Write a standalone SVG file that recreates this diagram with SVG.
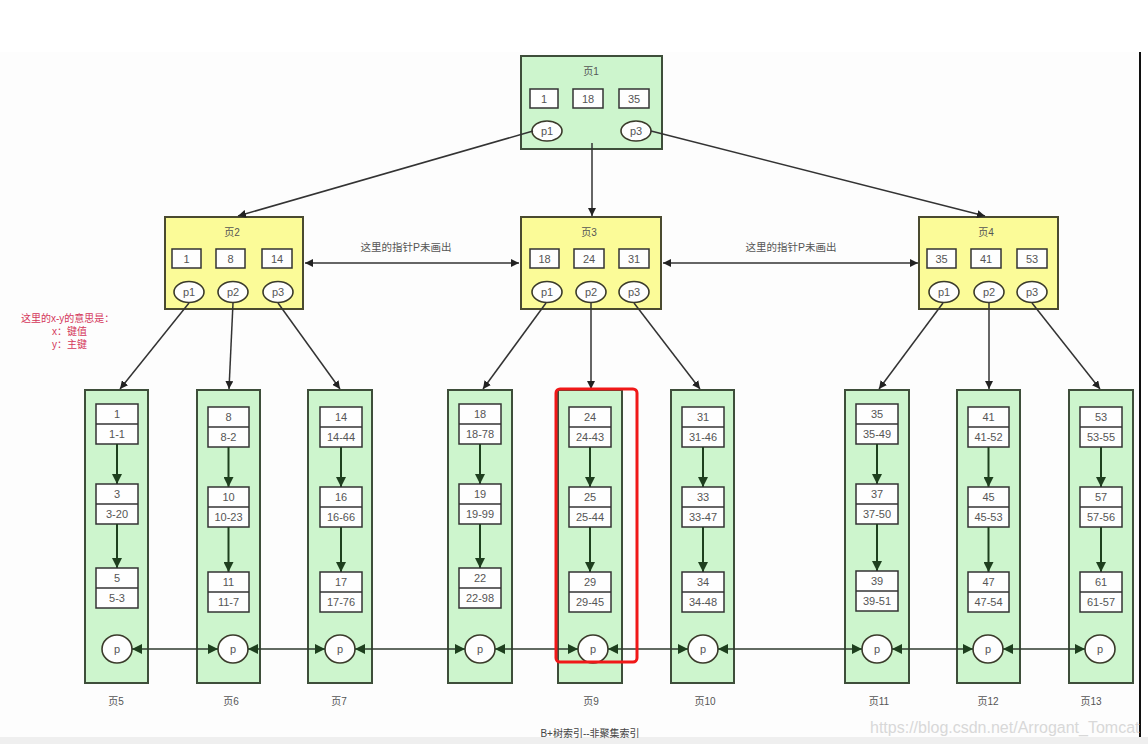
<svg xmlns="http://www.w3.org/2000/svg" width="1148" height="744" viewBox="0 0 1148 744">
<style>
.t{font-family:"Liberation Sans","Noto Sans CJK SC",sans-serif;fill:#555;text-anchor:middle;dominant-baseline:central}
.k{font-size:11px}
.ti{font-size:10px}
.g{fill:#cdf5cd;stroke:#3e4e3a;stroke-width:2}
.y{fill:#fbfb98;stroke:#4a4a30;stroke-width:2}
.b{fill:#fefefe;stroke:#333;stroke-width:1.5}
.e{fill:#fefefe;stroke:#3a3a2a;stroke-width:1.6}
.c{fill:none;stroke:#333;stroke-width:1.5}
.lc{fill:none;stroke:#1e3f1e;stroke-width:2;marker-end:url(#ga)}
.hc{fill:none;stroke:#2e3a2e;stroke-width:1.6;marker-start:url(#ga);marker-end:url(#ga)}
.red{font-family:"Liberation Sans","Noto Sans CJK SC",sans-serif;font-size:10px;fill:#d4365a}
</style>
<defs>
<marker id="ba" viewBox="0 0 10 10" refX="10" refY="5" markerWidth="8" markerHeight="8" markerUnits="userSpaceOnUse" orient="auto-start-reverse"><path d="M0,0 L10,5 L0,10 z" fill="#222"/></marker>
<marker id="ga" viewBox="0 0 10 10" refX="10" refY="5" markerWidth="10" markerHeight="10" markerUnits="userSpaceOnUse" orient="auto-start-reverse"><path d="M0,0 L10,5 L0,10 z" fill="#1e3f1e"/></marker>
</defs>
<rect x="0" y="0" width="1148" height="744" fill="#ffffff"/>
<rect x="0" y="52" width="1139" height="685" fill="#fdfdfd"/>
<rect x="1139" y="52" width="2" height="685" fill="#111"/>
<rect x="0" y="737" width="1148" height="7" fill="#efefef"/>

<g id="page1">
<rect class="g" x="521" y="56" width="141" height="93"/>
<text class="t ti" x="591" y="71">页1</text>
<rect class="b" x="530" y="89" width="28" height="19"/><text class="t k" x="544" y="98.5">1</text>
<rect class="b" x="573" y="89" width="30" height="19"/><text class="t k" x="588" y="98.5">18</text>
<rect class="b" x="619" y="89" width="30" height="19"/><text class="t k" x="634" y="98.5">35</text>
<ellipse class="e" cx="547" cy="131" rx="15" ry="10"/><text class="t k" x="547" y="131">p1</text>
<ellipse class="e" cx="636" cy="131" rx="15" ry="10"/><text class="t k" x="636" y="131">p3</text>
</g>

<g id="page2">
<rect class="y" x="165" y="217" width="138" height="92"/>
<text class="t ti" x="232" y="232">页2</text>
<rect class="b" x="172" y="249" width="29" height="19"/><text class="t k" x="186.5" y="258.5">1</text>
<rect class="b" x="216" y="249" width="29" height="19"/><text class="t k" x="230.5" y="258.5">8</text>
<rect class="b" x="262" y="249" width="30" height="19"/><text class="t k" x="277" y="258.5">14</text>
<ellipse class="e" cx="189" cy="292" rx="15" ry="10.5"/><text class="t k" x="189" y="292">p1</text>
<ellipse class="e" cx="233" cy="292" rx="15" ry="10.5"/><text class="t k" x="233" y="292">p2</text>
<ellipse class="e" cx="278" cy="292" rx="15" ry="10.5"/><text class="t k" x="278" y="292">p3</text>
</g>

<g id="page3">
<rect class="y" x="521" y="217" width="140" height="92"/>
<text class="t ti" x="589" y="232">页3</text>
<rect class="b" x="530" y="249" width="29" height="19"/><text class="t k" x="544.5" y="258.5">18</text>
<rect class="b" x="574" y="249" width="30" height="19"/><text class="t k" x="589" y="258.5">24</text>
<rect class="b" x="619" y="249" width="30" height="19"/><text class="t k" x="634" y="258.5">31</text>
<ellipse class="e" cx="547" cy="292" rx="15" ry="10.5"/><text class="t k" x="547" y="292">p1</text>
<ellipse class="e" cx="591" cy="292" rx="15" ry="10.5"/><text class="t k" x="591" y="292">p2</text>
<ellipse class="e" cx="634" cy="292" rx="15" ry="10.5"/><text class="t k" x="634" y="292">p3</text>
</g>

<g id="page4">
<rect class="y" x="919" y="217" width="139" height="92"/>
<text class="t ti" x="986" y="232">页4</text>
<rect class="b" x="927" y="249" width="29" height="19"/><text class="t k" x="941.5" y="258.5">35</text>
<rect class="b" x="971" y="249" width="30" height="19"/><text class="t k" x="986" y="258.5">41</text>
<rect class="b" x="1017" y="249" width="30" height="19"/><text class="t k" x="1032" y="258.5">53</text>
<ellipse class="e" cx="944" cy="292" rx="15" ry="10.5"/><text class="t k" x="944" y="292">p1</text>
<ellipse class="e" cx="989" cy="292" rx="15" ry="10.5"/><text class="t k" x="989" y="292">p2</text>
<ellipse class="e" cx="1032" cy="292" rx="15" ry="10.5"/><text class="t k" x="1032" y="292">p3</text>
</g>

<g id="note">
<text class="red" x="21" y="322">这里的x-y的意思是：</text>
<text class="red" x="52" y="335">x：键值</text>
<text class="red" x="52" y="348">y：主键</text>
</g>

<g id="page5">
<rect class="g" x="85" y="390" width="63" height="293"/>
<rect class="b" x="96" y="404" width="42" height="40"/><line class="c" x1="96" y1="424" x2="138" y2="424"/>
<text class="t k" x="117" y="414">1</text><text class="t k" x="117" y="434">1-1</text>
<line class="lc" x1="117" y1="444" x2="117" y2="484"/>
<rect class="b" x="96" y="484" width="42" height="40"/><line class="c" x1="96" y1="504" x2="138" y2="504"/>
<text class="t k" x="117" y="494">3</text><text class="t k" x="117" y="514">3-20</text>
<line class="lc" x1="117" y1="524" x2="117" y2="568"/>
<rect class="b" x="96" y="568" width="42" height="40"/><line class="c" x1="96" y1="588" x2="138" y2="588"/>
<text class="t k" x="117" y="578">5</text><text class="t k" x="117" y="598">5-3</text>
<ellipse class="e" cx="117" cy="649" rx="15" ry="14"/><text class="t k" x="117" y="649">p</text>
<text class="t ti" x="116" y="701">页5</text>
</g>

<g id="page6">
<rect class="g" x="197" y="390" width="63" height="293"/>
<rect class="b" x="208" y="407" width="41" height="40"/><line class="c" x1="208" y1="427" x2="249" y2="427"/>
<text class="t k" x="228.5" y="417">8</text><text class="t k" x="228.5" y="437">8-2</text>
<line class="lc" x1="228.5" y1="447" x2="228.5" y2="487"/>
<rect class="b" x="208" y="487" width="41" height="40"/><line class="c" x1="208" y1="507" x2="249" y2="507"/>
<text class="t k" x="228.5" y="497">10</text><text class="t k" x="228.5" y="517">10-23</text>
<line class="lc" x1="228.5" y1="527" x2="228.5" y2="572"/>
<rect class="b" x="208" y="572" width="41" height="40"/><line class="c" x1="208" y1="592" x2="249" y2="592"/>
<text class="t k" x="228.5" y="582">11</text><text class="t k" x="228.5" y="602">11-7</text>
<ellipse class="e" cx="233" cy="649" rx="15" ry="14"/><text class="t k" x="233" y="649">p</text>
<text class="t ti" x="231" y="701">页6</text>
</g>

<g id="page7">
<rect class="g" x="308" y="390" width="64" height="293"/>
<rect class="b" x="320" y="407" width="42" height="40"/><line class="c" x1="320" y1="427" x2="362" y2="427"/>
<text class="t k" x="341" y="417">14</text><text class="t k" x="341" y="437">14-44</text>
<line class="lc" x1="341" y1="447" x2="341" y2="487"/>
<rect class="b" x="320" y="487" width="42" height="40"/><line class="c" x1="320" y1="507" x2="362" y2="507"/>
<text class="t k" x="341" y="497">16</text><text class="t k" x="341" y="517">16-66</text>
<line class="lc" x1="341" y1="527" x2="341" y2="572"/>
<rect class="b" x="320" y="572" width="42" height="40"/><line class="c" x1="320" y1="592" x2="362" y2="592"/>
<text class="t k" x="341" y="582">17</text><text class="t k" x="341" y="602">17-76</text>
<ellipse class="e" cx="340" cy="649" rx="15" ry="14"/><text class="t k" x="340" y="649">p</text>
<text class="t ti" x="339" y="701">页7</text>
</g>

<g id="page8">
<rect class="g" x="448" y="390" width="64" height="293"/>
<rect class="b" x="459" y="404" width="42" height="40"/><line class="c" x1="459" y1="424" x2="501" y2="424"/>
<text class="t k" x="480" y="414">18</text><text class="t k" x="480" y="434">18-78</text>
<line class="lc" x1="480" y1="444" x2="480" y2="484"/>
<rect class="b" x="459" y="484" width="42" height="40"/><line class="c" x1="459" y1="504" x2="501" y2="504"/>
<text class="t k" x="480" y="494">19</text><text class="t k" x="480" y="514">19-99</text>
<line class="lc" x1="480" y1="524" x2="480" y2="568"/>
<rect class="b" x="459" y="568" width="42" height="40"/><line class="c" x1="459" y1="588" x2="501" y2="588"/>
<text class="t k" x="480" y="578">22</text><text class="t k" x="480" y="598">22-98</text>
<ellipse class="e" cx="480" cy="649" rx="15" ry="14"/><text class="t k" x="480" y="649">p</text>
</g>

<g id="page9">
<rect class="g" x="558" y="390" width="64" height="293"/>
<rect class="b" x="569" y="407" width="42" height="40"/><line class="c" x1="569" y1="427" x2="611" y2="427"/>
<text class="t k" x="590" y="417">24</text><text class="t k" x="590" y="437">24-43</text>
<line class="lc" x1="590" y1="447" x2="590" y2="487"/>
<rect class="b" x="569" y="487" width="42" height="40"/><line class="c" x1="569" y1="507" x2="611" y2="507"/>
<text class="t k" x="590" y="497">25</text><text class="t k" x="590" y="517">25-44</text>
<line class="lc" x1="590" y1="527" x2="590" y2="572"/>
<rect class="b" x="569" y="572" width="42" height="40"/><line class="c" x1="569" y1="592" x2="611" y2="592"/>
<text class="t k" x="590" y="582">29</text><text class="t k" x="590" y="602">29-45</text>
<ellipse class="e" cx="593" cy="649" rx="15" ry="14"/><text class="t k" x="593" y="649">p</text>
<text class="t ti" x="591" y="701">页9</text>
</g>

<g id="page10">
<rect class="g" x="671" y="390" width="63" height="293"/>
<rect class="b" x="682" y="407" width="42" height="40"/><line class="c" x1="682" y1="427" x2="724" y2="427"/>
<text class="t k" x="703" y="417">31</text><text class="t k" x="703" y="437">31-46</text>
<line class="lc" x1="703" y1="447" x2="703" y2="487"/>
<rect class="b" x="682" y="487" width="42" height="40"/><line class="c" x1="682" y1="507" x2="724" y2="507"/>
<text class="t k" x="703" y="497">33</text><text class="t k" x="703" y="517">33-47</text>
<line class="lc" x1="703" y1="527" x2="703" y2="572"/>
<rect class="b" x="682" y="572" width="42" height="40"/><line class="c" x1="682" y1="592" x2="724" y2="592"/>
<text class="t k" x="703" y="582">34</text><text class="t k" x="703" y="602">34-48</text>
<ellipse class="e" cx="703" cy="649" rx="15" ry="14"/><text class="t k" x="703" y="649">p</text>
<text class="t ti" x="705" y="701">页10</text>
</g>

<g id="page11">
<rect class="g" x="845" y="390" width="64" height="293"/>
<rect class="b" x="856" y="404" width="42" height="40"/><line class="c" x1="856" y1="424" x2="898" y2="424"/>
<text class="t k" x="877" y="414">35</text><text class="t k" x="877" y="434">35-49</text>
<line class="lc" x1="877" y1="444" x2="877" y2="484"/>
<rect class="b" x="856" y="484" width="42" height="40"/><line class="c" x1="856" y1="504" x2="898" y2="504"/>
<text class="t k" x="877" y="494">37</text><text class="t k" x="877" y="514">37-50</text>
<line class="lc" x1="877" y1="524" x2="877" y2="571"/>
<rect class="b" x="856" y="571" width="42" height="40"/><line class="c" x1="856" y1="591" x2="898" y2="591"/>
<text class="t k" x="877" y="581">39</text><text class="t k" x="877" y="601">39-51</text>
<ellipse class="e" cx="877" cy="649" rx="15" ry="14"/><text class="t k" x="877" y="649">p</text>
<text class="t ti" x="879" y="701">页11</text>
</g>

<g id="page12">
<rect class="g" x="957" y="390" width="63" height="293"/>
<rect class="b" x="968" y="407" width="41" height="40"/><line class="c" x1="968" y1="427" x2="1009" y2="427"/>
<text class="t k" x="988.5" y="417">41</text><text class="t k" x="988.5" y="437">41-52</text>
<line class="lc" x1="988.5" y1="447" x2="988.5" y2="487"/>
<rect class="b" x="968" y="487" width="41" height="40"/><line class="c" x1="968" y1="507" x2="1009" y2="507"/>
<text class="t k" x="988.5" y="497">45</text><text class="t k" x="988.5" y="517">45-53</text>
<line class="lc" x1="988.5" y1="527" x2="988.5" y2="572"/>
<rect class="b" x="968" y="572" width="41" height="40"/><line class="c" x1="968" y1="592" x2="1009" y2="592"/>
<text class="t k" x="988.5" y="582">47</text><text class="t k" x="988.5" y="602">47-54</text>
<ellipse class="e" cx="988" cy="649" rx="15" ry="14"/><text class="t k" x="988" y="649">p</text>
<text class="t ti" x="988" y="701">页12</text>
</g>

<g id="page13">
<rect class="g" x="1069" y="390" width="64" height="293"/>
<rect class="b" x="1080" y="407" width="42" height="40"/><line class="c" x1="1080" y1="427" x2="1122" y2="427"/>
<text class="t k" x="1101" y="417">53</text><text class="t k" x="1101" y="437">53-55</text>
<line class="lc" x1="1101" y1="447" x2="1101" y2="487"/>
<rect class="b" x="1080" y="487" width="42" height="40"/><line class="c" x1="1080" y1="507" x2="1122" y2="507"/>
<text class="t k" x="1101" y="497">57</text><text class="t k" x="1101" y="517">57-56</text>
<line class="lc" x1="1101" y1="527" x2="1101" y2="572"/>
<rect class="b" x="1080" y="572" width="42" height="40"/><line class="c" x1="1080" y1="592" x2="1122" y2="592"/>
<text class="t k" x="1101" y="582">61</text><text class="t k" x="1101" y="602">61-57</text>
<ellipse class="e" cx="1100" cy="649" rx="15" ry="14"/><text class="t k" x="1100" y="649">p</text>
<text class="t ti" x="1091" y="701">页13</text>
</g>

<g id="connectors">
<line class="c" x1="533" y1="131" x2="238" y2="216" marker-end="url(#ba)"/>
<line class="c" x1="592" y1="143" x2="592" y2="216" marker-end="url(#ba)"/>
<line class="c" x1="651" y1="131" x2="985" y2="216" marker-end="url(#ba)"/>
<line class="c" x1="305" y1="263" x2="519" y2="263" marker-start="url(#ba)" marker-end="url(#ba)"/>
<line class="c" x1="663" y1="263" x2="918" y2="263" marker-start="url(#ba)" marker-end="url(#ba)"/>
<line class="c" x1="189" y1="303" x2="120" y2="389" marker-end="url(#ba)"/>
<line class="c" x1="233" y1="303" x2="229" y2="389" marker-end="url(#ba)"/>
<line class="c" x1="278" y1="303" x2="340" y2="389" marker-end="url(#ba)"/>
<line class="c" x1="546" y1="303" x2="483" y2="389" marker-end="url(#ba)"/>
<line class="c" x1="591" y1="303" x2="591" y2="389" marker-end="url(#ba)"/>
<line class="c" x1="634" y1="303" x2="700" y2="389" marker-end="url(#ba)"/>
<line class="c" x1="943" y1="303" x2="879" y2="389" marker-end="url(#ba)"/>
<line class="c" x1="989" y1="303" x2="989" y2="389" marker-end="url(#ba)"/>
<line class="c" x1="1032" y1="303" x2="1100" y2="389" marker-end="url(#ba)"/>
<line class="hc" x1="132" y1="649" x2="218" y2="649"/>
<line class="hc" x1="248" y1="649" x2="325" y2="649"/>
<line class="hc" x1="355" y1="649" x2="465" y2="649"/>
<line class="hc" x1="495" y1="649" x2="578" y2="649"/>
<line class="hc" x1="608" y1="649" x2="688" y2="649"/>
<line class="hc" x1="718" y1="649" x2="862" y2="649"/>
<line class="hc" x1="892" y1="649" x2="973" y2="649"/>
<line class="hc" x1="1003" y1="649" x2="1085" y2="649"/>
<text class="t" x="406" y="247" style="font-size:10.5px">这里的指针P未画出</text>
<text class="t" x="791" y="247" style="font-size:10.5px">这里的指针P未画出</text>
</g>

<rect id="highlight" x="556" y="389" width="81" height="273" rx="4" fill="none" stroke="#f01818" stroke-width="3"/>

<text id="caption" class="t" x="590" y="733" style="font-size:10px;fill:#444">B+树索引--非聚集索引</text>
<text id="watermark" x="870" y="733" style="font-family:'Liberation Sans',sans-serif;font-size:16px;fill:#d8d8d8">https://blog.csdn.net/Arrogant_Tomcat</text>
</svg>
